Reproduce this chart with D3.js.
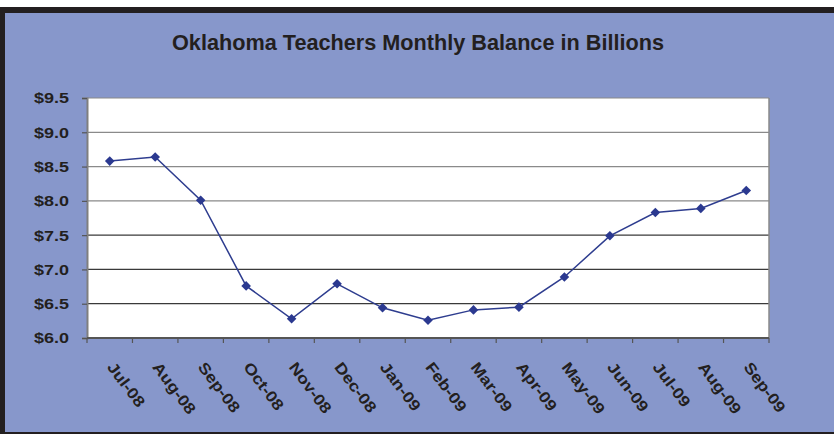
<!DOCTYPE html>
<html>
<head>
<meta charset="utf-8">
<script src="https://cdn.jsdelivr.net/npm/d3@7"></script>
<style>
  body { margin: 0; background: #fff; }
  text { font-family: "Liberation Sans", Arial, sans-serif; fill: #231f20; font-weight: bold; }
</style>
</head>
<body>
<div id="chart"></div>
<script>
// monthly balance, $ billions
var months = ["Jul-08","Aug-08","Sep-08","Oct-08","Nov-08","Dec-08","Jan-09","Feb-09",
              "Mar-09","Apr-09","May-09","Jun-09","Jul-09","Aug-09","Sep-09"];
var balance = [8.58, 8.64, 8.01, 6.76, 6.28, 6.79, 6.44, 6.26, 6.41, 6.45, 6.89, 7.49, 7.83, 7.89, 8.15];
var yTicks = [6.0, 6.5, 7.0, 7.5, 8.0, 8.5, 9.0, 9.5];
var title = "Oklahoma Teachers Monthly Balance in Billions";

const width = 834;
const height = 435;
const plot = {left: 87, top: 98, right: 769, bottom: 338};

let svg = d3.select("#chart")
	.append("svg")
	.attr("width", width)
	.attr("height", height);

// frame + blue background
svg.append("rect")
	.attr("x", 0).attr("y", 7)
	.attr("width", width).attr("height", 427)
	.attr("fill", "#231f20");
svg.append("rect")
	.attr("x", 5).attr("y", 13)
	.attr("width", width - 5).attr("height", 419)
	.attr("fill", "#8797cb");

svg.append("text")
	.attr("x", 418)
	.attr("y", 50)
	.attr("text-anchor", "middle")
	.attr("font-size", 21.5)
	.attr("textLength", 492)
	.attr("lengthAdjust", "spacingAndGlyphs")
	.text(title);

let xScale = d3.scaleBand()
	.domain(months)
	.range([plot.left, plot.right]);

let yScale = d3.scaleLinear()
	.domain([6, 9.5])
	.range([plot.bottom, plot.top]);

svg.append("rect")
	.attr("x", plot.left).attr("y", plot.top)
	.attr("width", plot.right - plot.left)
	.attr("height", plot.bottom - plot.top)
	.attr("fill", "#fff");

// gridlines (the lower ones print darker in the original)
svg.append("g")
	.selectAll("line")
	.data(yTicks.filter(d => d > 6))
	.join("line")
	.attr("x1", plot.left).attr("x2", plot.right)
	.attr("y1", d => yScale(d)).attr("y2", d => yScale(d))
	.attr("stroke", d => d >= 8 ? "#8a8a8a" : "#3a3a3a")
	.attr("stroke-width", 1.2);

// right edge of plot
svg.append("line")
	.attr("x1", plot.right).attr("x2", plot.right)
	.attr("y1", plot.top).attr("y2", plot.bottom)
	.attr("stroke", "#8a8a8a").attr("stroke-width", 1.5);

let yAxis = d3.axisLeft(yScale)
	.tickValues(yTicks)
	.tickSize(5)
	.tickPadding(13)
	.tickFormat(d => "$" + d3.format(".1f")(d));

let gy = svg.append("g")
	.attr("transform", `translate(${plot.left}, 0)`)
	.call(yAxis);
gy.select(".domain").attr("stroke", "#7f7f7f").attr("stroke-width", 2);
gy.selectAll(".tick line").attr("stroke", "#555").attr("stroke-width", 1.2);
gy.selectAll("text")
	.attr("font-size", 15.5)
	.attr("textLength", 35)
	.attr("lengthAdjust", "spacingAndGlyphs")
	.attr("fill", "#231f20")
	.style("font-family", "'Liberation Sans', Arial, sans-serif");

// bottom axis: ticks on category boundaries
let edges = months.map(m => xScale(m)).concat([plot.right]);
svg.append("line")
	.attr("x1", plot.left).attr("x2", plot.right)
	.attr("y1", plot.bottom).attr("y2", plot.bottom)
	.attr("stroke", "#555").attr("stroke-width", 2);
svg.append("g")
	.selectAll("line")
	.data(edges)
	.join("line")
	.attr("x1", d => d).attr("x2", d => d)
	.attr("y1", plot.bottom).attr("y2", plot.bottom + 5)
	.attr("stroke", "#555").attr("stroke-width", 1.2);

svg.append("g")
	.selectAll("text")
	.data(months)
	.join("text")
	.attr("font-size", 15.5)
	.attr("transform", d => `translate(${xScale(d) + xScale.bandwidth() / 2 + 1}, 364) rotate(53) scale(1.15, 1)`)
	.attr("dy", "0.35em")
	.text(d => d);

// series
let cx = (d, i) => xScale(months[i]) + xScale.bandwidth() / 2;
let line = d3.line()
	.x(cx)
	.y(d => yScale(d));

svg.append("path")
	.datum(balance)
	.attr("fill", "none")
	.attr("stroke", "#2e3d8f")
	.attr("stroke-width", 1.5)
	.attr("d", line);

svg.append("g")
	.selectAll("path")
	.data(balance)
	.join("path")
	.attr("d", d3.symbol(d3.symbolSquare, 46))
	.attr("transform", (d, i) => `translate(${cx(d, i)}, ${yScale(d)}) rotate(45)`)
	.attr("fill", "#2b3990");
</script>
</body>
</html>
